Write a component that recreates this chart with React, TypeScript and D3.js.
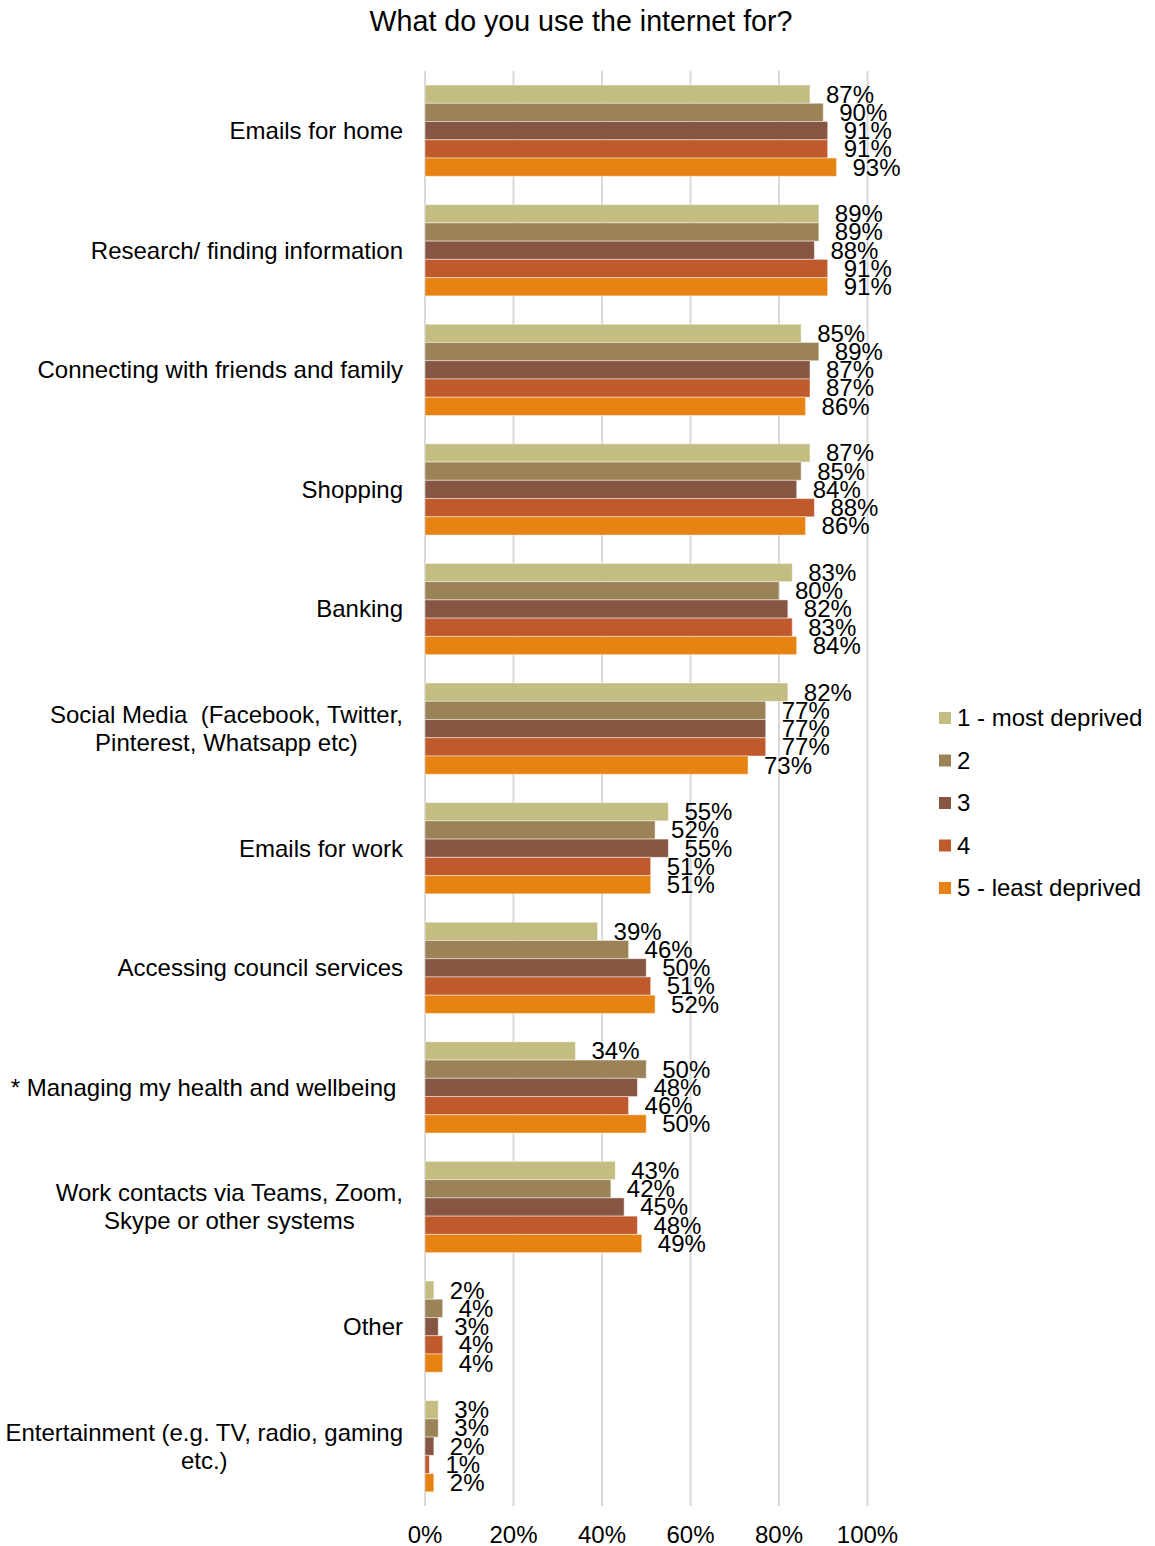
import React from "react";
import * as d3 from "d3";

const title = "What do you use the internet for?";

const categories: string[][] = [
  ["Emails for home"],
  ["Research/ finding information"],
  ["Connecting with friends and family"],
  ["Shopping"],
  ["Banking"],
  ["Social Media  (Facebook, Twitter,", "Pinterest, Whatsapp etc)"],
  ["Emails for work"],
  ["Accessing council services"],
  ["* Managing my health and wellbeing "],
  ["Work contacts via Teams, Zoom,", "Skype or other systems"],
  ["Other"],
  ["Entertainment (e.g. TV, radio, gaming", "etc.)"],
];

const seriesNames = ["1 - most deprived", "2", "3", "4", "5 - least deprived"];
const seriesColors = ["#C3BD82", "#9C8357", "#875642", "#BF5A2D", "#E68313"];

const q1 = [87, 89, 85, 87, 83, 82, 55, 39, 34, 43, 2, 3];
const q2 = [90, 89, 89, 85, 80, 77, 52, 46, 50, 42, 4, 3];
const q3 = [91, 88, 87, 84, 82, 77, 55, 50, 48, 45, 3, 2];
const q4 = [91, 91, 87, 88, 83, 77, 51, 51, 46, 48, 4, 1];
const q5 = [93, 91, 86, 86, 84, 73, 51, 52, 50, 49, 4, 2];
const seriesValues = [q1, q2, q3, q4, q5];

const xTicks = [0, 20, 40, 60, 80, 100];

const W = 1155;
const H = 1546;
const FONT = "'Liberation Sans', Arial, sans-serif";
const FS = 24;

export default function App() {
  const x = d3.scaleLinear().domain([0, 100]).range([425, 867.5]);
  const y = d3
    .scaleBand<number>()
    .domain(categories.map((_, i) => i))
    .range([70.85, 1506])
    .paddingInner(0.237)
    .paddingOuter(0.1185);
  const ySub = d3
    .scaleBand<number>()
    .domain(seriesNames.map((_, i) => i))
    .range([0, y.bandwidth()]);

  return (
    <svg
      width={W}
      height={H}
      style={{ position: "absolute", left: 0, top: 0, background: "#fff" }}
      fontFamily={FONT}
    >
      <rect width={W} height={H} fill="#fff" />
      <text x={581} y={31} textAnchor="middle" fontSize={28.6} fill="#000">
        {title}
      </text>
      {xTicks.map((t) => (
        <g key={t}>
          <line
            x1={x(t)}
            x2={x(t)}
            y1={70.85}
            y2={1506}
            stroke="#D9D9D9"
            strokeWidth={2}
          />
          <text x={x(t)} y={1543} textAnchor="middle" fontSize={FS} fill="#000">
            {t}%
          </text>
        </g>
      ))}
      {categories.map((lines, ci) => {
        const cy = (y(ci) as number) + y.bandwidth() / 2;
        const lh = 28;
        const y0 = cy - ((lines.length - 1) * lh) / 2;
        const rightEdge = x(0) - 22;
        return (
          <g key={ci}>
            {lines.length === 1 ? (
              <text
                x={rightEdge}
                y={cy}
                dy="0.35em"
                textAnchor="end"
                fontSize={FS}
                style={{ whiteSpace: "pre" }}
              >
                {lines[0]}
              </text>
            ) : (
              <MultiLine lines={lines} rightEdge={rightEdge} y0={y0} lh={lh} />
            )}
            {seriesValues.map((vals, si) => {
              const by = (y(ci) as number) + (ySub(si) as number);
              const v = vals[ci];
              return (
                <g key={si}>
                  <rect
                    x={x(0)}
                    y={by}
                    width={x(v) - x(0)}
                    height={ySub.bandwidth()}
                    fill={seriesColors[si]}
                    stroke="#fff"
                    strokeOpacity={0.45}
                    strokeWidth={1}
                  />
                  <text
                    x={x(v) + 16}
                    y={by + ySub.bandwidth() / 2}
                    dy="0.35em"
                    fontSize={FS}
                    fill="#000"
                  >
                    {v}%
                  </text>
                </g>
              );
            })}
          </g>
        );
      })}
      {seriesNames.map((name, si) => {
        const ly = 718 + si * 42.5;
        return (
          <g key={name}>
            <rect x={939} y={ly - 6} width={12} height={12} fill={seriesColors[si]} />
            <text x={957} y={ly} dy="0.35em" fontSize={FS} fill="#000">
              {name}
            </text>
          </g>
        );
      })}
    </svg>
  );
}

function MultiLine({
  lines,
  rightEdge,
  y0,
  lh,
}: {
  lines: string[];
  rightEdge: number;
  y0: number;
  lh: number;
}) {
  const ref = React.useRef<SVGGElement>(null);
  React.useEffect(() => {
    const g = ref.current;
    if (!g) return;
    const texts = Array.from(g.querySelectorAll("text")) as SVGTextElement[];
    const widths = texts.map((t) => t.getComputedTextLength());
    const maxW = Math.max(...widths);
    const center = rightEdge - maxW / 2;
    texts.forEach((t) => t.setAttribute("x", String(center)));
  }, [lines, rightEdge]);
  return (
    <g ref={ref}>
      {lines.map((l, i) => (
        <text
          key={i}
          x={rightEdge}
          y={y0 + i * lh}
          dy="0.35em"
          textAnchor="middle"
          fontSize={FS}
          fill="#000"
          style={{ whiteSpace: "pre" }}
        >
          {l}
        </text>
      ))}
    </g>
  );
}
